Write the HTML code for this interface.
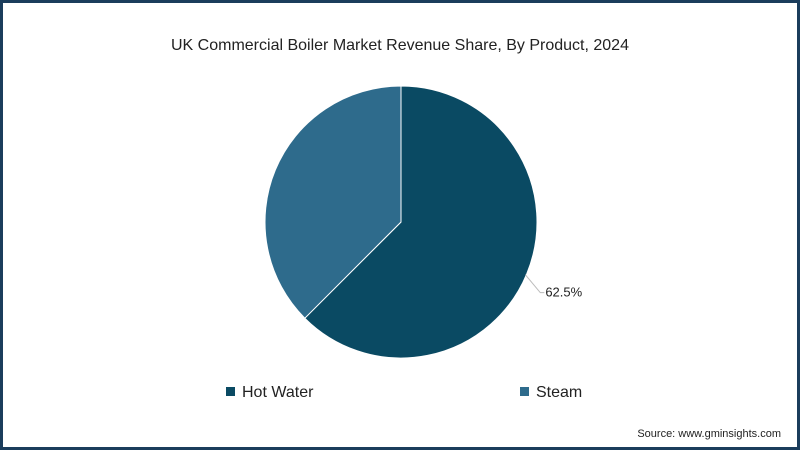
<!DOCTYPE html>
<html><head><meta charset="utf-8"><style>
html,body{margin:0;padding:0;background:#fff;}
body{width:800px;height:450px;overflow:hidden;font-family:"Liberation Sans",sans-serif;}
.frame{position:absolute;left:0;top:0;width:794px;height:444px;border:3px solid #1b3d5c;}
</style></head><body>
<div class="frame"></div>
<svg id="chart" width="800" height="450" style="position:absolute;left:0;top:0">
<text x="400" y="50" text-anchor="middle" font-size="16" fill="#222">UK Commercial Boiler Market Revenue Share, By Product, 2024</text>
<g id="slices"></g>
<g id="labels"></g>
<g>
<rect x="226" y="387" width="9" height="9" fill="#0a4a63"/>
<text x="242" y="397" font-size="16" fill="#222">Hot Water</text>
<rect x="520" y="387" width="9" height="9" fill="#2e6b8c"/>
<text x="536" y="397" font-size="16" fill="#222">Steam</text>
</g>
<text x="781" y="437" text-anchor="end" font-size="11" fill="#222">Source: www.gminsights.com</text>
</svg>
<script>
const categories = ["Hot Water", "Steam"];
const shares = [62.5, 37.5];
const colors = ["#0a4a63", "#2e6b8c"];
const cx = 401, cy = 222, r = 136;
const ns = "http://www.w3.org/2000/svg";
const total = shares.reduce((a,b)=>a+b,0);
function pt(frac, rad){const a = frac*2*Math.PI; return [cx + rad*Math.sin(a), cy - rad*Math.cos(a)];}
let acc = 0;
const g = document.getElementById("slices"), lg = document.getElementById("labels");
shares.forEach((v,i)=>{
  const f0 = acc/total, f1 = (acc+v)/total; acc += v;
  const [x0,y0]=pt(f0,r),[x1,y1]=pt(f1,r);
  const large = (f1-f0)>0.5?1:0;
  const p = document.createElementNS(ns,"path");
  p.setAttribute("d",`M${cx},${cy} L${x0},${y0} A${r},${r} 0 ${large} 1 ${x1},${y1} Z`);
  p.setAttribute("fill",colors[i]); p.setAttribute("stroke","#fff"); p.setAttribute("stroke-width","1");
  
  
  g.appendChild(p);
  if(i===0){
    const fa = f0 + (f1-f0)*0.502;
    const [ax,ay]=pt(fa,r-1);
    const l = document.createElementNS(ns,"polyline");
    l.setAttribute("points",`${ax},${ay} ${ax+15},${ay+18} ${ax+19},${ay+18}`);
    l.setAttribute("fill","none"); l.setAttribute("stroke","#bbb"); l.setAttribute("stroke-width","1");
    
    
    lg.appendChild(l);
    const t = document.createElementNS(ns,"text");
    t.setAttribute("x",ax+20); t.setAttribute("y",ay+22); t.setAttribute("font-size","13"); t.setAttribute("fill","#222");
    t.textContent = v.toFixed(1)+"%";
    
    
    lg.appendChild(t);
  }
});
</script>
</body></html>
